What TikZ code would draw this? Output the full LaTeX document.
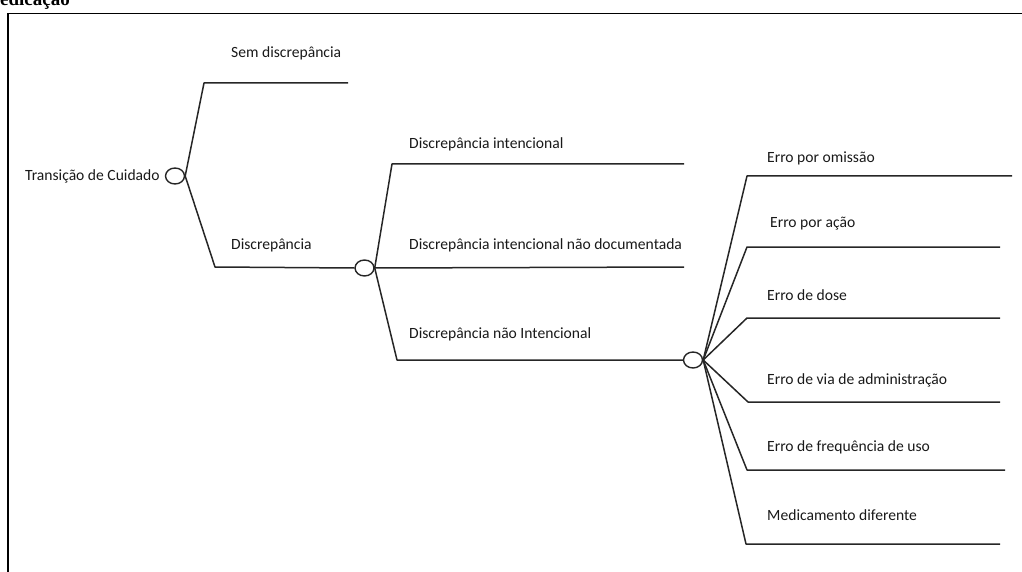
\documentclass[tikz,border=0pt]{standalone}
\usepackage{fontspec}
\setmainfont{Carlito}
\newfontfamily\titlefont{Liberation Serif}
\usetikzlibrary{shapes.geometric}
\begin{document}
\begin{tikzpicture}[x=1pt,y=-1pt,
  branch/.style={line width=1.5pt, draw=black!85, line join=round},
  hub/.style={ellipse, draw=black!85, line width=1.4pt, fill=white,
    minimum width=19pt, minimum height=16pt, inner sep=0pt},
  lbl/.style={anchor=base west, inner sep=0pt, text=black!90,
    font=\fontsize{15.6}{18}\selectfont}]
\useasboundingbox (0,0) rectangle (1022,572);
\clip (0,0) rectangle (1022,572);

% page frame and heading
\draw[line width=1.8pt] (8.3,600) -- (8.3,13.5) -- (1040,13.5);
\node[anchor=base east, inner sep=0pt,
  font=\titlefont\bfseries\fontsize{19}{21}\selectfont] (title) at (70,6) {medicação};

% decision hubs
\node[hub] (h1) at (175,176) {};
\node[hub] (h2) at (364.5,268) {};
\node[hub] (h3) at (693,360) {};

% level 1
\coordinate (s1) at (204,83);  \coordinate (s1e) at (348,83);
\coordinate (d1) at (215,267);
\draw[branch] (h1.east) -- (s1) -- (s1e);
\draw[branch] (h1.east) -- (d1) -- (h2.west);
\node[lbl] (tc) at (25,180.5) {Transição de Cuidado};
\node[lbl] (sd) at (231,57.5) {Sem discrepância};
\node[lbl] (dd) at (231,249) {Discrepância};

% level 2
\coordinate (i1) at (392,164); \coordinate (i1e) at (684,164);
\coordinate (i2e) at (684,267);
\coordinate (i3) at (397,360);
\draw[branch] (h2.east) -- (i1) -- (i1e);
\draw[branch] (h2.east) -- (i2e);
\draw[branch] (h2.east) -- (i3) -- (h3.west);
\node[lbl] (di) at (409,148.5) {Discrepância intencional};
\node[lbl] (dn) at (409,249.5) {Discrepância intencional não documentada};
\node[lbl] (du) at (409,338.5) {Discrepância não Intencional};

% level 3
\coordinate (e1) at (747,176); \coordinate (e1e) at (1012,176);
\coordinate (e2) at (747,247); \coordinate (e2e) at (1000,247);
\coordinate (e3) at (747,318); \coordinate (e3e) at (1000,318);
\coordinate (e4) at (748,402); \coordinate (e4e) at (1000,402);
\coordinate (e5) at (747,470); \coordinate (e5e) at (1005,470);
\coordinate (e6) at (746,544); \coordinate (e6e) at (1000,544);
\foreach \k in {1,...,6}
  \draw[branch] (h3.east) -- (e\k) -- (e\k e);
\node[lbl] (t1) at (767,162.5) {Erro por omissão};
\node[lbl] (t2) at (770,227.5) {Erro por ação};
\node[lbl] (t3) at (767,300.5) {Erro de dose};
\node[lbl] (t4) at (767,384) {Erro de via de administração};
\node[lbl] (t5) at (767,451) {Erro de frequência de uso};
\node[lbl] (t6) at (767,520) {Medicamento diferente};
\end{tikzpicture}
\end{document}
